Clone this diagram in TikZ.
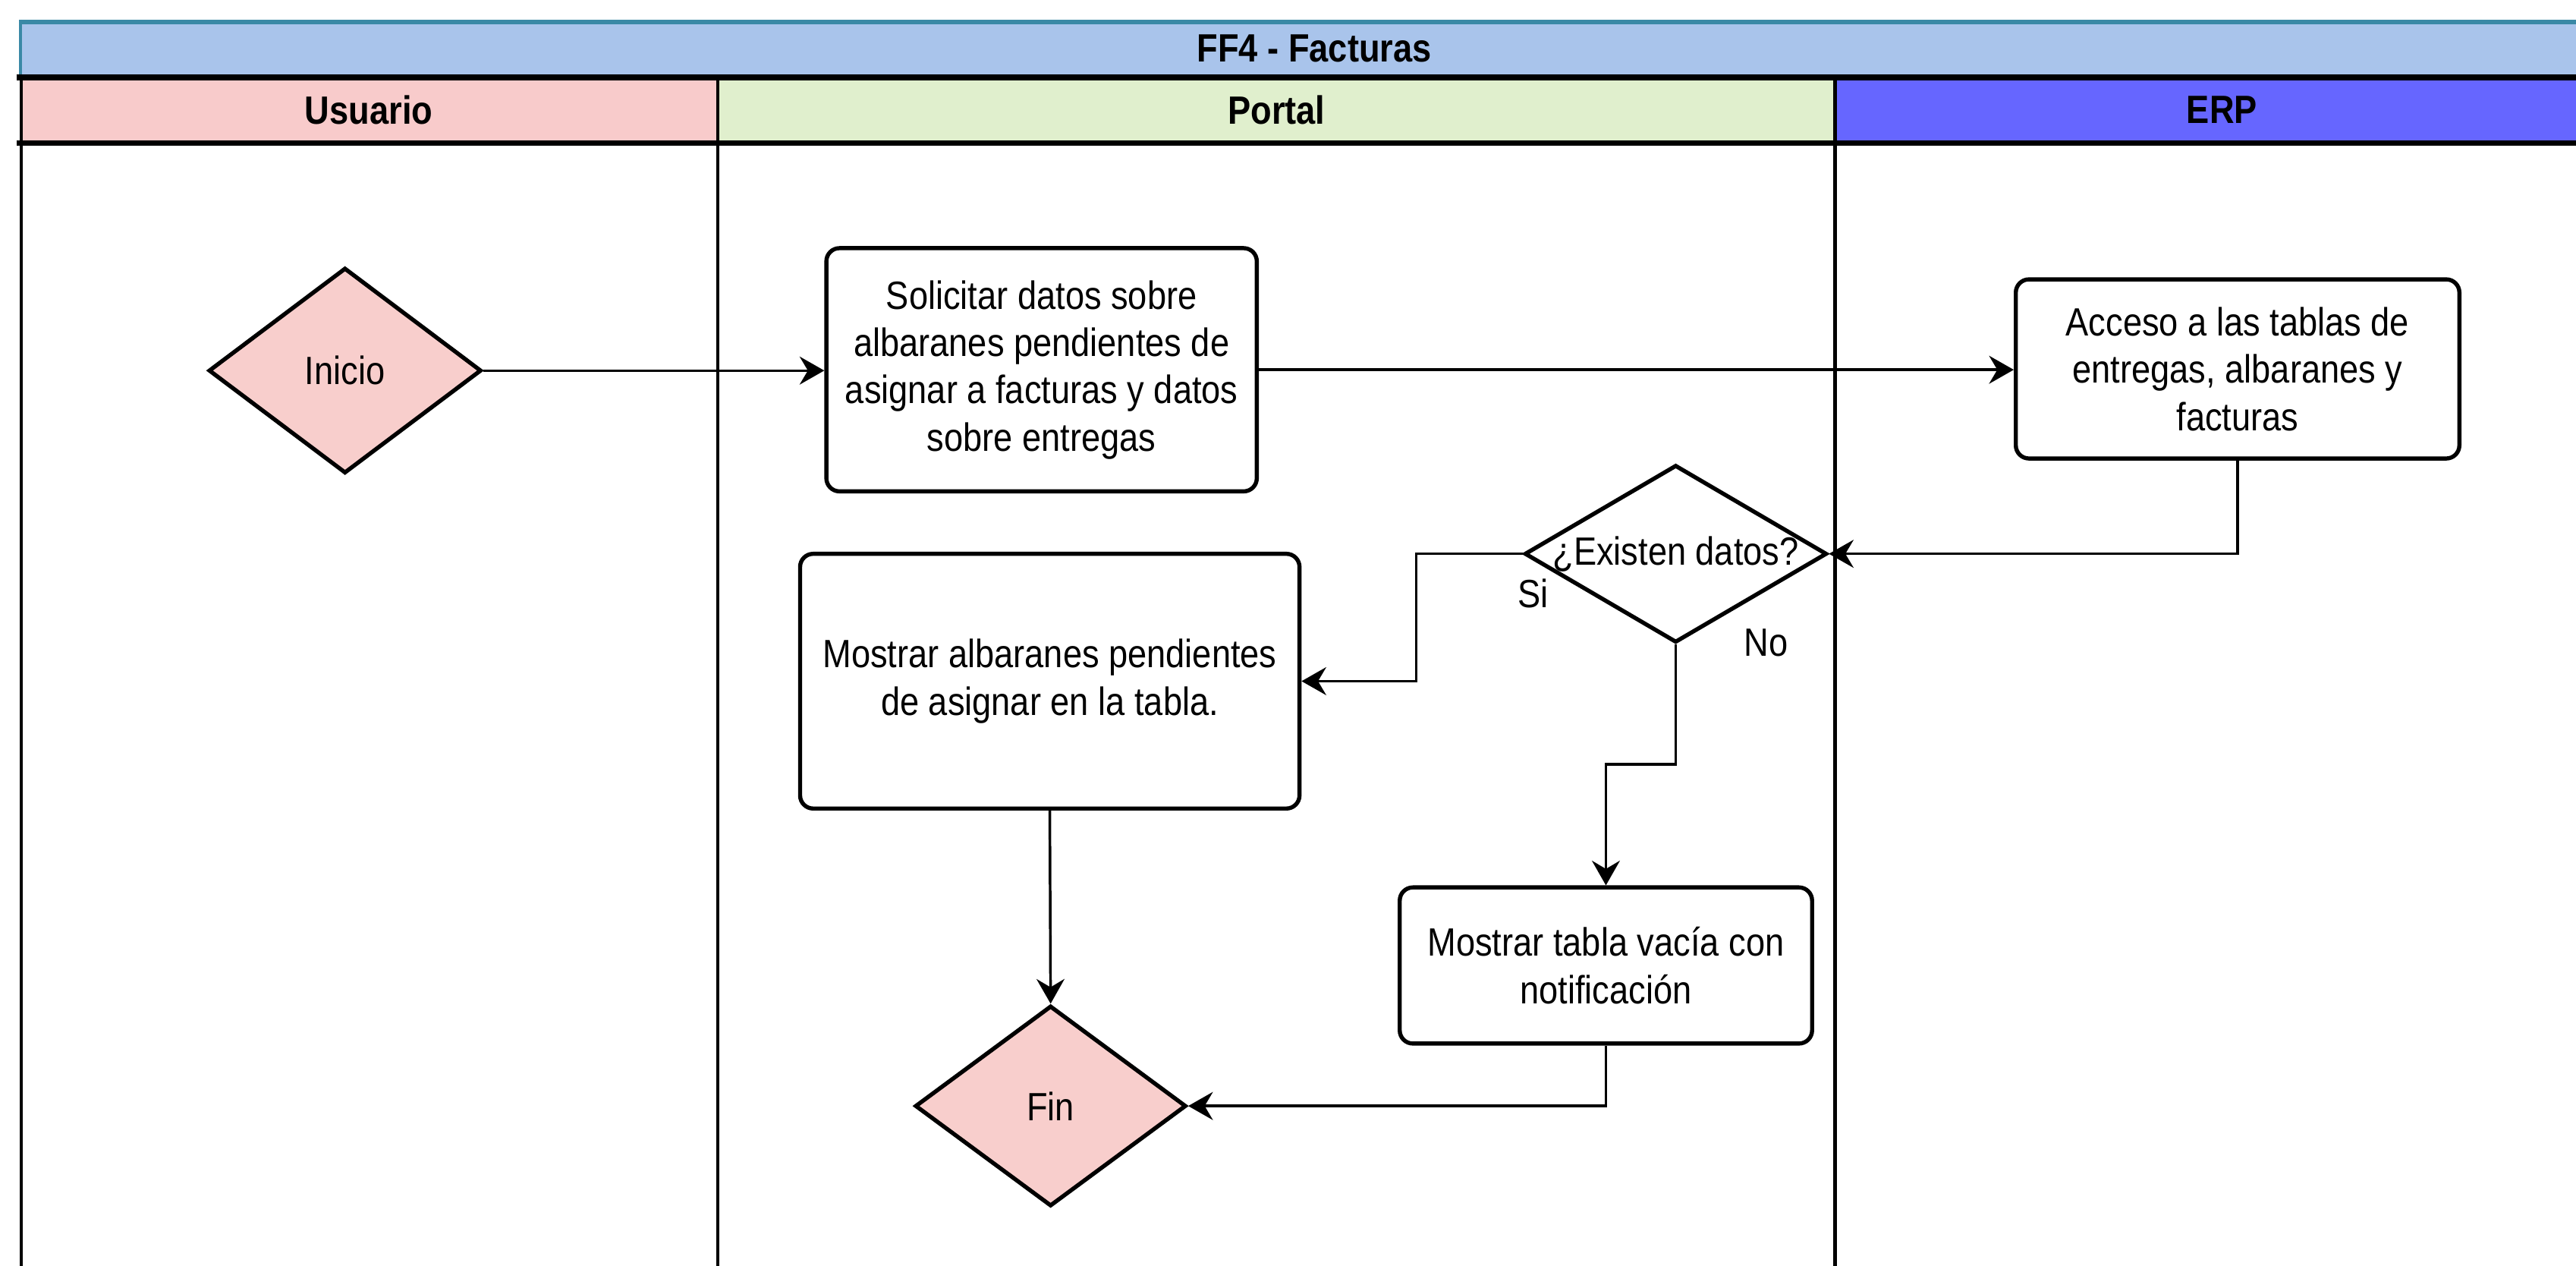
\documentclass[tikz,border=0pt]{standalone}
\usepackage{fontspec}
\setmainfont{Liberation Sans}[FakeStretch=0.87]
\usetikzlibrary{shapes.geometric,arrows.meta,calc}
\definecolor{titlebg}{HTML}{A9C4EB}
\definecolor{titleline}{HTML}{3A89A6}
\definecolor{userbg}{HTML}{F8CBCB}
\definecolor{portalbg}{HTML}{E0EFCD}
\definecolor{erpbg}{HTML}{6666FF}
\definecolor{endbg}{HTML}{F8CECC}
\begin{document}
\begin{tikzpicture}[x=1pt,y=-1pt,
  txt/.style={font=\fontsize{24}{28.8}\selectfont, align=center},
  hdrtxt/.style={font=\fontsize{24}{28.8}\selectfont\bfseries},
  hdrbox/.style={anchor=north west, inner sep=0pt, outer sep=0pt, hdrtxt},
  procbox/.style={draw, line width=2.5pt, rounded corners=8pt, fill=white, txt, inner sep=0pt},
  decbox/.style={draw, diamond, line width=2.5pt, inner sep=0pt, txt, fill=white},
  conn/.style={line width=1.6pt, -{Stealth[length=15pt,width=17pt,inset=5pt]}},
  lanerule/.style={line width=2pt},
  hdrrule/.style={line width=3.5pt}
]
\useasboundingbox (0,0) rectangle (1568,770);
\clip (0,0) rectangle (1568,770);
% title and lane headers
\node[hdrbox, fill=titlebg, minimum width=1576pt, minimum height=35pt] (title) at (12,12) {};
\node[hdrtxt] at (title.center) {FF4 - Facturas};
\node[hdrbox, fill=userbg, minimum width=425pt, minimum height=40pt] (husr) at (12,47) {};
\node[hdrtxt] at (husr.center) {Usuario};
\node[hdrbox, fill=portalbg, minimum width=680pt, minimum height=40pt] (hptl) at (437,47) {};
\node[hdrtxt] at (hptl.center) {Portal};
\node[hdrbox, fill=erpbg, minimum width=471pt, minimum height=40pt] (herp) at (1117,47) {};
\node[hdrtxt] at (herp.center) {ERP};
% rules
\draw[line width=3pt, titleline] (12,13.5) -- (1590,13.5);
\draw[line width=1.5pt, titleline] (12.5,12) -- (12.5,47);
\draw[hdrrule] (10,47) -- (1590,47);
\draw[hdrrule] (10,87) -- (1590,87);
\draw[lanerule] (13,47) -- (13,780);
\draw[lanerule] (437,47) -- (437,780);
\draw[lanerule] (1117,47) -- (1117,780);
% nodes
\node[decbox, fill=endbg, minimum width=166pt, minimum height=125pt] (ini) at (210,225.5) {Inicio};
\node[procbox, minimum width=262pt, minimum height=148pt] (sol) at (634,225) {Solicitar datos sobre\\albaranes pendientes de\\asignar a facturas y datos\\sobre entregas};
\node[procbox, minimum width=270pt, minimum height=109pt] (acc) at (1362,224.5) {Acceso a las tablas de\\entregas, albaranes y\\facturas};
\node[decbox, minimum width=184pt, minimum height=108pt, label={[txt]center:¿Existen datos?}] (exi) at (1020,337) {};
\node[procbox, minimum width=304pt, minimum height=155pt] (mos) at (639,414.5) {Mostrar albaranes pendientes\\de asignar en la tabla.};
\node[procbox, minimum width=251pt, minimum height=95pt] (vac) at (977.5,587.5) {Mostrar tabla vacía con\\notificación};
\node[decbox, fill=endbg, minimum width=165pt, minimum height=122pt] (fin) at (639.5,673) {Fin};
\node[txt] (si) at (933,361) {Si};
\node[txt] (no) at (1075,391) {No};
% connectors
\coordinate (c1) at (1020,465);
\draw[conn] (ini.east) -- (sol.west |- ini.east);
\draw[conn] (sol.east) -- (acc.west |- sol.east);
\draw[conn] (acc.south) |- (exi.east);
\draw[conn] (exi.west) -- (862,337) |- (mos.east);
\draw[conn] (exi.south) -- (c1) -| (vac.north);
\draw[conn] (mos.south) -- (fin.north);
\draw[conn] (vac.south) |- (fin.east);
\end{tikzpicture}
\end{document}
